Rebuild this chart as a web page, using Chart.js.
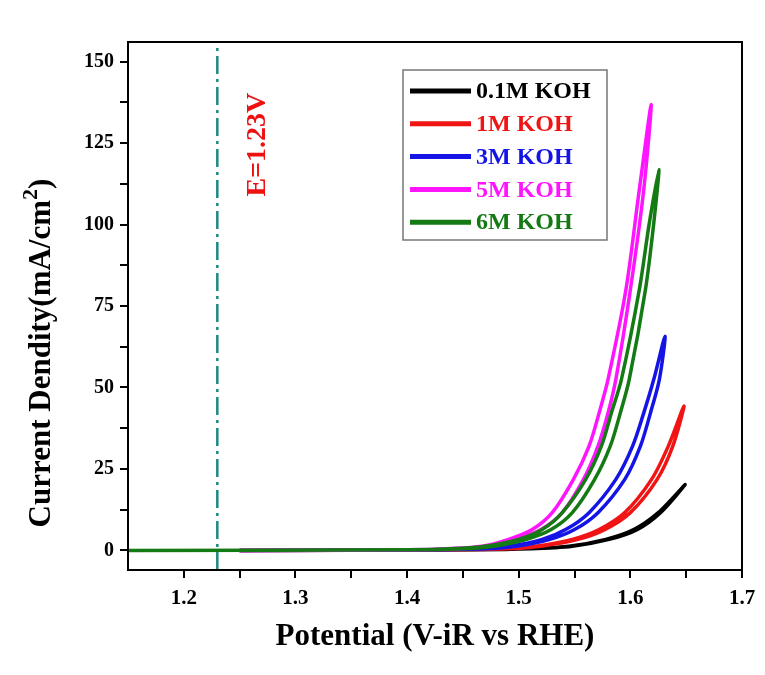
<!DOCTYPE html>
<html>
<head>
<meta charset="utf-8">
<script src="https://cdn.jsdelivr.net/npm/chart.js@4.4.0/dist/chart.umd.min.js"></script>
<style>
    html, body { margin: 0; padding: 0; background: #fff; }
</style>
</head>
<body>
<canvas id="myChart" width="765" height="675"></canvas>
<script>
// Etiquetas de las series y colores
const etiquetas = ["0.1M KOH", "1M KOH", "3M KOH", "5M KOH", "6M KOH"];
const colores = ["#000000", "#f01414", "#1414e6", "#ff14ff", "#147a14"];

// Barrido de ida (potencial en V, corriente en mA/cm2)
const potIda01 = [1.25, 1.46, 1.51, 1.545, 1.578, 1.603, 1.625, 1.649];
const corIda01 = [0, 0.2, 0.6, 1.3, 3.4, 6.4, 11.6, 20.2];
const potIda1 = [1.25, 1.44, 1.49, 1.515, 1.548, 1.572, 1.595, 1.619, 1.634, 1.648];
const corIda1 = [0, 0.2, 0.6, 1.3, 3.4, 6.4, 11.6, 21.8, 32, 44.3];
const potIda3 = [1.25, 1.42, 1.465, 1.491, 1.521, 1.542, 1.563, 1.587, 1.602, 1.612, 1.621, 1.631];
const corIda3 = [0, 0.2, 0.6, 1.3, 3.4, 6.4, 11.6, 21.8, 32, 42.2, 52.5, 65.7];
const potIda5 = [1.25, 1.40, 1.44, 1.467, 1.491, 1.512, 1.530, 1.549, 1.563, 1.572, 1.580, 1.596, 1.608, 1.6186];
const corIda5 = [0, 0.2, 0.6, 1.3, 3.4, 6.4, 11.6, 21.8, 32, 42.2, 52.5, 80, 110.7, 136.8];
const potIda6 = [1.15, 1.40, 1.445, 1.470, 1.500, 1.521, 1.539, 1.560, 1.574, 1.583, 1.592, 1.608, 1.617, 1.6255];
const corIda6 = [0, 0.2, 0.6, 1.3, 3.4, 6.4, 11.6, 21.8, 32, 42.2, 52.5, 80, 100.5, 116.9];

// Barrido de vuelta
const potVuelta01 = [1.627, 1.606, 1.581, 1.548, 1.51, 1.46, 1.25];
const corVuelta01 = [11.6, 6.4, 3.4, 1.3, 0.5, 0.2, 0];
const potVuelta1 = [1.638, 1.624, 1.600, 1.577, 1.553, 1.520, 1.49, 1.44, 1.25];
const corVuelta1 = [32, 21.8, 11.6, 6.4, 3.4, 1.3, 0.5, 0.2, 0];
const potVuelta3 = [1.626, 1.618, 1.609, 1.595, 1.571, 1.550, 1.528, 1.498, 1.47, 1.42, 1.25];
const corVuelta3 = [52.5, 42.2, 32, 21.8, 11.6, 6.4, 3.4, 1.3, 0.5, 0.2, 0];
const potVuelta5 = [1.612, 1.600, 1.587, 1.580, 1.571, 1.558, 1.539, 1.520, 1.498, 1.473, 1.445, 1.40, 1.25];
const corVuelta5 = [110.7, 80, 52.5, 42.2, 32, 21.8, 11.6, 6.4, 3.4, 1.3, 0.5, 0.2, 0];
const potVuelta6 = [1.621, 1.6135, 1.599, 1.591, 1.582, 1.568, 1.548, 1.529, 1.507, 1.478, 1.45, 1.40, 1.15];
const corVuelta6 = [100.5, 80, 52.5, 42.2, 32, 21.8, 11.6, 6.4, 3.4, 1.3, 0.5, 0.2, 0];

// Ejes y marcas
const ticksX = [1.2, 1.25, 1.3, 1.35, 1.4, 1.45, 1.5, 1.55, 1.6, 1.65, 1.7];
const ticksY = [0, 12.5, 25, 37.5, 50, 62.5, 75, 87.5, 100, 112.5, 125, 137.5, 150];
const potencialE = 1.23;
const textoE = "E=1.23V";

const fuente = '"Liberation Serif", "Times New Roman", serif';

function puntos(px, py, vx, vy) {
    const ida = px.map((v, i) => ({ x: v, y: py[i] }));
    const vuelta = vx.map((v, i) => ({ x: v, y: vy[i] }));
    return ida.concat(vuelta);
}

const series = [
    puntos(potIda01, corIda01, potVuelta01, corVuelta01),
    puntos(potIda1, corIda1, potVuelta1, corVuelta1),
    puntos(potIda3, corIda3, potVuelta3, corVuelta3),
    puntos(potIda5, corIda5, potVuelta5, corVuelta5),
    puntos(potIda6, corIda6, potVuelta6, corVuelta6),
];

const datasets = series.map((d, i) => ({
    label: etiquetas[i],
    data: d,
    showLine: true,
    borderColor: colores[i],
    backgroundColor: colores[i],
    borderWidth: 3.5,
    pointRadius: 0,
    tension: 0.3,
    order: 5 - i,
    enLeyenda: true,
}));

// Linea vertical punteada en E = 1.23 V
datasets.push({
    label: "E",
    data: [{ x: potencialE, y: -6 }, { x: potencialE, y: 156 }],
    showLine: true,
    borderColor: "#1b8a86",
    borderWidth: 2.5,
    borderDash: [18, 5, 3, 5],
    pointRadius: 0,
    order: -1,
});

// Plugin para el marco, el texto E, el titulo Y y la leyenda
const extras = {
    id: "extras",
    afterDatasetsDraw(chart) {
        const ctx = chart.ctx;
        const a = chart.chartArea;
        const sx = chart.scales.x;
        const sy = chart.scales.y;

        ctx.save();
        ctx.strokeStyle = "#000";
        ctx.lineWidth = 2;
        ctx.strokeRect(a.left, a.top, a.right - a.left, a.bottom - a.top);
        ctx.restore();

        // Texto vertical E=1.23V
        ctx.save();
        ctx.translate(sx.getPixelForValue(1.266), sy.getPixelForValue(124.5));
        ctx.rotate(-Math.PI / 2);
        ctx.fillStyle = "#ee1111";
        ctx.font = "bold 28px " + fuente;
        ctx.textAlign = "center";
        ctx.textBaseline = "middle";
        ctx.fillText(textoE, 0, 0);
        ctx.restore();

        // Titulo del eje Y con superindice
        ctx.save();
        ctx.translate(42, 353);
        ctx.rotate(-Math.PI / 2);
        ctx.fillStyle = "#000";
        ctx.textBaseline = "middle";
        ctx.textAlign = "left";
        const f1 = "bold 31px " + fuente;
        const f2 = "bold 22px " + fuente;
        const p1 = "Current Dendity(mA/cm", p2 = "2", p3 = ")";
        ctx.font = f1;
        const w1 = ctx.measureText(p1).width, w3 = ctx.measureText(p3).width;
        ctx.font = f2;
        const w2 = ctx.measureText(p2).width;
        let x0 = -(w1 + w2 + w3) / 2;
        ctx.font = f1;
        ctx.fillText(p1, x0, 0);
        ctx.font = f2;
        ctx.fillText(p2, x0 + w1, -11);
        ctx.font = f1;
        ctx.fillText(p3, x0 + w1 + w2, 0);
        ctx.restore();

        // Leyenda
        const items = chart.data.datasets.filter((d) => d.enLeyenda);
        ctx.save();
        ctx.fillStyle = "#fff";
        ctx.fillRect(403, 70, 204, 170);
        ctx.strokeStyle = "#777";
        ctx.lineWidth = 1.5;
        ctx.strokeRect(403, 70, 204, 170);
        ctx.font = "bold 24px " + fuente;
        ctx.textBaseline = "middle";
        items.forEach((d, i) => {
            const yy = 91 + i * 32.8;
            ctx.strokeStyle = d.borderColor;
            ctx.lineWidth = 5;
            ctx.beginPath();
            ctx.moveTo(410, yy);
            ctx.lineTo(471, yy);
            ctx.stroke();
            ctx.fillStyle = d.borderColor;
            ctx.fillText(d.label, 476, yy + 1);
        });
        ctx.restore();
    },
};

const ctx = document.getElementById("myChart").getContext("2d");
const myChart = new Chart(ctx, {
    type: "scatter",
    data: { datasets: datasets },
    plugins: [extras],
    options: {
        responsive: false,
        animation: false,
        layout: { padding: { left: 20, right: 23, top: 42, bottom: 15 } },
        plugins: { legend: { display: false }, tooltip: { enabled: false } },
        scales: {
            x: {
                type: "linear",
                min: 1.15,
                max: 1.7,
                afterBuildTicks: (scale) => { scale.ticks = ticksX.map((v) => ({ value: v })); },
                afterFit: (scale) => { scale.height = 90; },
                ticks: {
                    autoSkip: false,
                    maxRotation: 0,
                    padding: 8,
                    color: "#000",
                    font: { family: fuente, size: 21, weight: "bold" },
                    callback: (v) => (Math.abs(v * 10 - Math.round(v * 10)) < 1e-6 ? v.toFixed(1) : ""),
                },
                grid: { drawOnChartArea: false, tickLength: 8, color: "#000", lineWidth: 2 },
                border: { display: true, color: "#000", width: 2 },
                title: {
                    display: true,
                    text: "Potential (V-iR vs RHE)",
                    color: "#000",
                    font: { family: fuente, size: 31, weight: "bold" },
                    padding: { top: 0, bottom: 4 },
                },
            },
            y: {
                type: "linear",
                min: -6,
                max: 156,
                afterBuildTicks: (scale) => { scale.ticks = ticksY.map((v) => ({ value: v })); },
                afterFit: (scale) => { scale.width = 108; },
                ticks: {
                    autoSkip: false,
                    padding: 6,
                    color: "#000",
                    font: { family: fuente, size: 20, weight: "bold" },
                    callback: (v) => (v % 25 === 0 ? v : ""),
                },
                grid: { drawOnChartArea: false, tickLength: 8, color: "#000", lineWidth: 2 },
                border: { display: true, color: "#000", width: 2 },
            },
        },
    },
});
</script>
</body>
</html>
